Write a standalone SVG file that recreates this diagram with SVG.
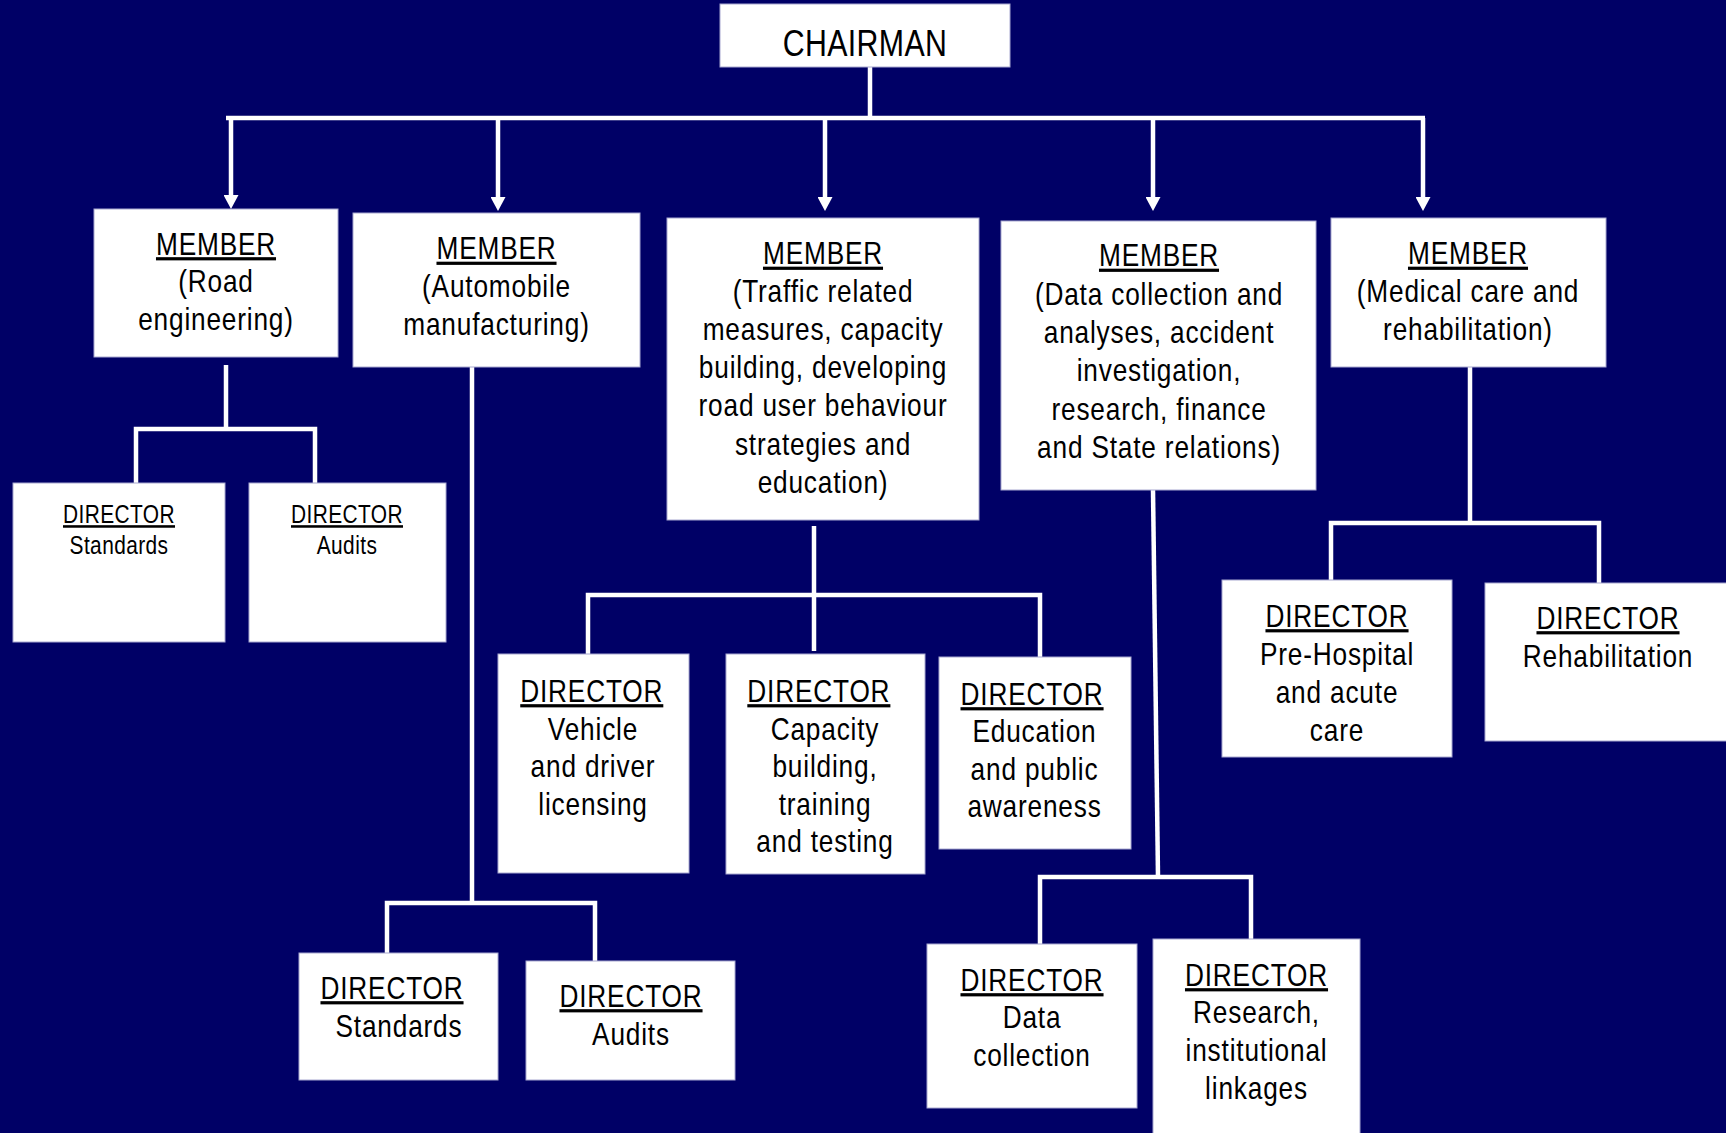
<svg xmlns="http://www.w3.org/2000/svg" width="1726" height="1133" viewBox="0 0 1726 1133">
<style>
.box{fill:#ffffff;stroke:#a8a8d0;stroke-width:1}
.t{font-family:"Liberation Sans",Arial,sans-serif;fill:#000000;text-anchor:middle;font-size:32px;letter-spacing:1px}
.s{font-size:25.5px;letter-spacing:0.5px}
.h{font-size:37px;letter-spacing:0.4px}
.u{text-decoration:underline;text-decoration-thickness:3px}
.c{stroke:#ffffff;stroke-width:4.5;fill:none}
</style>
<defs>
<marker id="ah" viewBox="0 0 14 15" markerWidth="14" markerHeight="15" refX="4" refY="7.5" orient="auto" markerUnits="userSpaceOnUse">
<path d="M0,0 L14,7.5 L0,15 z" fill="#ffffff"/>
</marker>
</defs>
<rect x="0" y="0" width="1726" height="1133" fill="#000066"/>

<g id="connectors">
<line class="c" x1="870" y1="67" x2="870" y2="118"/>
<line class="c" x1="226" y1="118" x2="1425" y2="118"/>
<line class="c" x1="231" y1="118" x2="231" y2="199" marker-end="url(#ah)"/>
<line class="c" x1="498" y1="118" x2="498" y2="201" marker-end="url(#ah)"/>
<line class="c" x1="825" y1="118" x2="825" y2="201" marker-end="url(#ah)"/>
<line class="c" x1="1153" y1="118" x2="1153" y2="201" marker-end="url(#ah)"/>
<line class="c" x1="1423" y1="118" x2="1423" y2="201" marker-end="url(#ah)"/>

<line class="c" x1="226" y1="365" x2="226" y2="429"/>
<polyline class="c" points="136,483 136,429 315,429 315,483"/>

<line class="c" x1="472" y1="367" x2="472" y2="903"/>
<polyline class="c" points="387,953 387,903 595,903 595,961"/>

<line class="c" x1="814" y1="526" x2="814" y2="651"/>
<polyline class="c" points="588,654 588,595 1040,595 1040,657"/>

<line class="c" x1="1153" y1="490" x2="1158" y2="877"/>
<polyline class="c" points="1040,944 1040,877 1251,877 1251,939"/>

<line class="c" x1="1470" y1="367" x2="1470" y2="523"/>
<polyline class="c" points="1331,580 1331,523 1599,523 1599,583"/>
</g>

<g id="chairman">
<rect class="box" x="720" y="4" width="290" height="63"/>
<text class="t h" transform="matrix(0.82 0 0 1 865 0)"><tspan x="0" y="56">CHAIRMAN</tspan></text>
</g>

<g id="member-road">
<rect class="box" x="94" y="209" width="244" height="148"/>
<text class="t" transform="matrix(0.82 0 0 1 216 0)"><tspan class="u" x="0" y="255">MEMBER</tspan><tspan x="0" y="292.5">(Road</tspan><tspan x="0" y="330">engineering)</tspan></text>
</g>

<g id="member-auto">
<rect class="box" x="353" y="213" width="287" height="154"/>
<text class="t" transform="matrix(0.82 0 0 1 496.5 0)"><tspan class="u" x="0" y="259.5">MEMBER</tspan><tspan x="0" y="297.5">(Automobile</tspan><tspan x="0" y="335">manufacturing)</tspan></text>
</g>

<g id="member-traffic">
<rect class="box" x="667" y="218" width="312" height="302"/>
<text class="t" transform="matrix(0.82 0 0 1 823 0)"><tspan class="u" x="0" y="264.5">MEMBER</tspan><tspan x="0" y="302.5">(Traffic related</tspan><tspan x="0" y="340.5">measures, capacity</tspan><tspan x="0" y="378.5">building, developing</tspan><tspan x="0" y="416.5">road user behaviour</tspan><tspan x="0" y="455">strategies and</tspan><tspan x="0" y="493">education)</tspan></text>
</g>

<g id="member-data">
<rect class="box" x="1001" y="221" width="315" height="269"/>
<text class="t" transform="matrix(0.82 0 0 1 1159 0)"><tspan class="u" x="0" y="266.5">MEMBER</tspan><tspan x="0" y="305">(Data collection and</tspan><tspan x="0" y="343.5">analyses, accident</tspan><tspan x="0" y="381.5">investigation,</tspan><tspan x="0" y="420">research, finance</tspan><tspan x="0" y="458">and State relations)</tspan></text>
</g>

<g id="member-medical">
<rect class="box" x="1331" y="218" width="275" height="149"/>
<text class="t" transform="matrix(0.82 0 0 1 1468 0)"><tspan class="u" x="0" y="264.5">MEMBER</tspan><tspan x="0" y="302">(Medical care and</tspan><tspan x="0" y="340">rehabilitation)</tspan></text>
</g>

<g id="dir-road-standards">
<rect class="box" x="13" y="483" width="212" height="159"/>
<text class="t s" transform="matrix(0.82 0 0 1 119 0)"><tspan class="u" x="0" y="523">DIRECTOR</tspan><tspan x="0" y="554">Standards</tspan></text>
</g>

<g id="dir-road-audits">
<rect class="box" x="249" y="483" width="197" height="159"/>
<text class="t s" transform="matrix(0.82 0 0 1 347 0)"><tspan class="u" x="0" y="523">DIRECTOR</tspan><tspan x="0" y="554">Audits</tspan></text>
</g>

<g id="dir-auto-standards">
<rect class="box" x="299" y="953" width="199" height="127"/>
<text class="t" transform="matrix(0.82 0 0 1 392 0)"><tspan class="u" x="0" y="999">DIRECTOR</tspan><tspan x="8.5" y="1037">Standards</tspan></text>
</g>

<g id="dir-auto-audits">
<rect class="box" x="526" y="961" width="209" height="119"/>
<text class="t" transform="matrix(0.82 0 0 1 631 0)"><tspan class="u" x="0" y="1007">DIRECTOR</tspan><tspan x="0" y="1045">Audits</tspan></text>
</g>

<g id="dir-vehicle">
<rect class="box" x="498" y="654" width="191" height="219"/>
<text class="t" transform="matrix(0.82 0 0 1 593 0)"><tspan class="u" x="-1.5" y="702">DIRECTOR</tspan><tspan x="0" y="740">Vehicle</tspan><tspan x="0" y="777">and driver</tspan><tspan x="0" y="815">licensing</tspan></text>
</g>

<g id="dir-capacity">
<rect class="box" x="726" y="654" width="199" height="220"/>
<text class="t" transform="matrix(0.82 0 0 1 825 0)"><tspan class="u" x="-7.5" y="702">DIRECTOR</tspan><tspan x="0" y="740">Capacity</tspan><tspan x="0" y="777">building,</tspan><tspan x="0" y="815">training</tspan><tspan x="0" y="852.5">and testing</tspan></text>
</g>

<g id="dir-education">
<rect class="box" x="939" y="657" width="192" height="192"/>
<text class="t" transform="matrix(0.82 0 0 1 1034.5 0)"><tspan class="u" x="-3" y="705">DIRECTOR</tspan><tspan x="0" y="742.5">Education</tspan><tspan x="0" y="780">and public</tspan><tspan x="0" y="817.5">awareness</tspan></text>
</g>

<g id="dir-prehospital">
<rect class="box" x="1222" y="580" width="230" height="177"/>
<text class="t" transform="matrix(0.82 0 0 1 1337 0)"><tspan class="u" x="0" y="627">DIRECTOR</tspan><tspan x="0" y="665">Pre-Hospital</tspan><tspan x="0" y="703">and acute</tspan><tspan x="0" y="741">care</tspan></text>
</g>

<g id="dir-rehabilitation">
<rect class="box" x="1485" y="583" width="250" height="158"/>
<text class="t" transform="matrix(0.82 0 0 1 1608 0)"><tspan class="u" x="0" y="629">DIRECTOR</tspan><tspan x="0" y="667">Rehabilitation</tspan></text>
</g>

<g id="dir-data-collection">
<rect class="box" x="927" y="944" width="210" height="164"/>
<text class="t" transform="matrix(0.82 0 0 1 1032 0)"><tspan class="u" x="0" y="991">DIRECTOR</tspan><tspan x="0" y="1028.5">Data</tspan><tspan x="0" y="1066">collection</tspan></text>
</g>

<g id="dir-research">
<rect class="box" x="1153" y="939" width="207" height="200"/>
<text class="t" transform="matrix(0.82 0 0 1 1256.5 0)"><tspan class="u" x="0" y="986">DIRECTOR</tspan><tspan x="0" y="1023.5">Research,</tspan><tspan x="0" y="1061.5">institutional</tspan><tspan x="0" y="1099">linkages</tspan></text>
</g>
</svg>
